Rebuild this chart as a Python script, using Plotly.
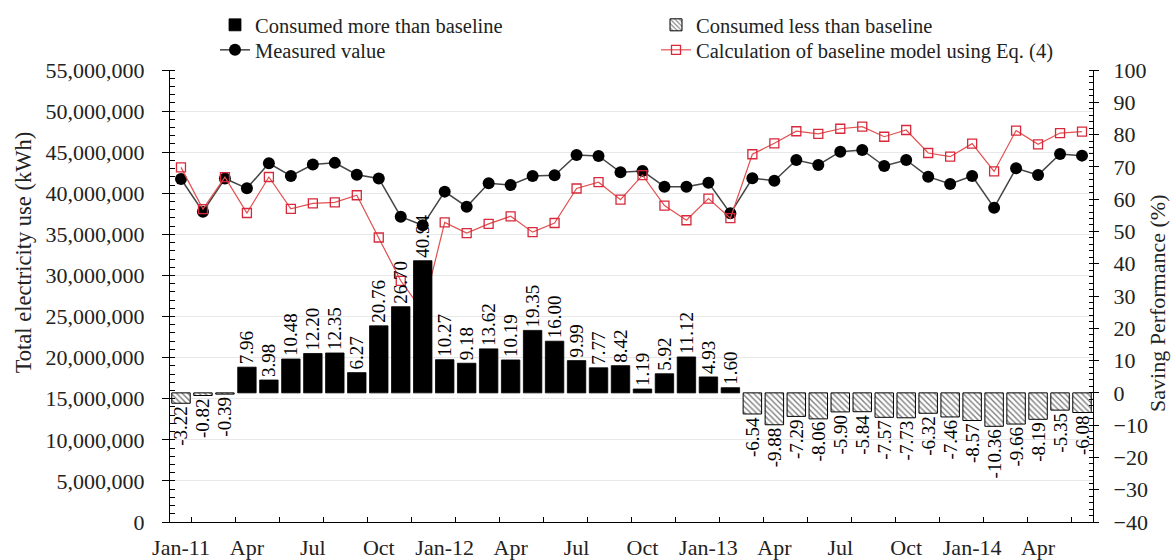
import plotly.graph_objects as go

# Monthly data, Jan 2011 - Jun 2014
months = [
    "Jan-11", "Feb-11", "Mar-11", "Apr-11", "May-11", "Jun-11", "Jul-11", "Aug-11", "Sep-11", "Oct-11", "Nov-11", "Dec-11",
    "Jan-12", "Feb-12", "Mar-12", "Apr-12", "May-12", "Jun-12", "Jul-12", "Aug-12", "Sep-12", "Oct-12", "Nov-12", "Dec-12",
    "Jan-13", "Feb-13", "Mar-13", "Apr-13", "May-13", "Jun-13", "Jul-13", "Aug-13", "Sep-13", "Oct-13", "Nov-13", "Dec-13",
    "Jan-14", "Feb-14", "Mar-14", "Apr-14", "May-14", "Jun-14",
]

# Axis labels shown every third month
tick_labels = ["Jan-11", "Apr", "Jul", "Oct", "Jan-12", "Apr", "Jul", "Oct",
               "Jan-13", "Apr", "Jul", "Oct", "Jan-14", "Apr"]

# Measured electricity use (million kWh)
measured_mkwh = [
    41.74, 37.75, 41.80, 40.60, 43.65, 42.10, 43.50, 43.70, 42.25, 41.80, 37.15, 36.10,
    40.20, 38.37, 41.21, 41.00, 42.10, 42.20, 44.66, 44.54, 42.55, 42.71, 40.80, 40.80,
    41.29, 37.56, 41.82, 41.53, 44.05, 43.44, 45.06, 45.27, 43.32, 44.05, 42.02, 41.13,
    42.10, 38.25, 43.04, 42.22, 44.78, 44.58,
]

# Baseline model, Eq. (4) (million kWh)
baseline_mkwh = [
    43.15, 38.08, 41.96, 37.60, 41.98, 38.10, 38.76, 38.90, 39.76, 34.62, 29.35, 25.65,
    36.45, 35.16, 36.27, 37.20, 35.27, 36.38, 40.58, 41.35, 39.23, 42.21, 38.50, 36.72,
    39.35, 36.97, 44.75, 46.08, 47.55, 47.23, 47.85, 48.10, 46.88, 47.70, 44.90, 44.45,
    46.04, 42.66, 47.63, 45.95, 47.33, 47.50,
]

# Saving performance (%)
saving_pct = [
    -3.22, -0.82, -0.39, 7.96, 3.98, 10.48, 12.20, 12.35, 6.27, 20.76, 26.70, 40.94,
    10.27, 9.18, 13.62, 10.19, 19.35, 16.00, 9.99, 7.77, 8.42, 1.19, 5.92, 11.12,
    4.93, 1.60, -6.54, -9.88, -7.29, -8.06, -5.90, -5.84, -7.57, -7.73, -6.32, -7.46,
    -8.57, -10.36, -9.66, -8.19, -5.35, -6.08,
]

FONT = "Liberation Serif, Times New Roman, serif"
x = list(range(len(months)))
more = [v if v > 0 else None for v in saving_pct]
less = [v if v < 0 else None for v in saving_pct]

fig = go.Figure()

fig.add_trace(go.Bar(
    x=x, y=more, yaxis="y2", name="Consumed more than baseline", legend="legend",
    width=0.84, marker=dict(color="black", line=dict(color="black", width=0.8)),
    text=[f"{v:.2f}" if v is not None else "" for v in more],
    textposition="outside", textangle=-90, constraintext="none", cliponaxis=False,
    textfont=dict(family=FONT, size=19, color="black"),
    customdata=months, hovertemplate="%{customdata}: %{y:.2f}%<extra></extra>",
))
fig.add_trace(go.Bar(
    x=x, y=less, yaxis="y2", name="Consumed less than baseline", legend="legend2",
    width=0.84,
    marker=dict(color="white", line=dict(color="black", width=1),
                pattern=dict(shape="\\", fgcolor="black", bgcolor="white", size=4, solidity=0.35)),
    text=[f"{v:.2f}" if v is not None else "" for v in less],
    textposition="outside", textangle=-90, constraintext="none", cliponaxis=False,
    textfont=dict(family=FONT, size=19, color="black"),
    customdata=months, hovertemplate="%{customdata}: %{y:.2f}%<extra></extra>",
))
fig.add_trace(go.Scatter(
    x=x, y=[v * 1e6 for v in measured_mkwh], name="Measured value", legend="legend3",
    mode="lines+markers", line=dict(color="#444444", width=1.5),
    marker=dict(symbol="circle", size=12, color="black"),
    customdata=months, hovertemplate="%{customdata}: %{y:,.0f} kWh<extra></extra>",
))
fig.add_trace(go.Scatter(
    x=x, y=[v * 1e6 for v in baseline_mkwh], name="Calculation of baseline model using Eq. (4)",
    legend="legend4",
    mode="lines+markers", line=dict(color="#e25050", width=1.2),
    marker=dict(symbol="square-open", size=9, color="#d8283a", line=dict(width=1.3)),
    customdata=months, hovertemplate="%{customdata}: %{y:,.0f} kWh<extra></extra>",
))

tickfont = dict(family=FONT, size=22, color="#222")
legend_common = dict(
    orientation="v", xanchor="left", yanchor="top",
    xref="container", yref="container",
    font=dict(family=FONT, size=20.5, color="#222"),
    bgcolor="rgba(0,0,0,0)",
)
col1, col2 = 215 / 1171, 656 / 1171
row1, row2 = 1 - 5 / 560, 1 - 30 / 560

fig.update_layout(
    width=1171, height=560,
    margin=dict(l=170, r=78, t=70, b=38, autoexpand=False),
    paper_bgcolor="white", plot_bgcolor="white",
    font=dict(family=FONT, color="#222"),
    barmode="overlay",
    showlegend=True,
    legend=dict(legend_common, x=col1, y=row1),
    legend2=dict(legend_common, x=col2, y=row1),
    legend3=dict(legend_common, x=col1, y=row2),
    legend4=dict(legend_common, x=col2, y=row2),
    xaxis=dict(
        range=[-0.5, len(months) - 0.5],
        tickmode="array", tickvals=list(range(0, len(months), 3)), ticktext=tick_labels,
        ticks="", showgrid=False, zeroline=False,
        showline=True, linecolor="black", linewidth=1.2,
        tickfont=tickfont, ticklabelstandoff=5,
        minor=dict(tickmode="array", tickvals=[i + 0.5 for i in range(0, len(months) - 1, 2)],
                   ticks="inside", ticklen=5, tickcolor="black", tickwidth=1, showgrid=False),
    ),
    yaxis=dict(
        range=[0, 55e6], dtick=5e6, tickformat=",d",
        ticks="outside", ticklen=7, tickcolor="black", tickwidth=1,
        showline=True, linecolor="black", linewidth=1.2,
        showgrid=True, gridcolor="#e8e8e8", gridwidth=1, zeroline=False,
        tickfont=tickfont, ticklabelstandoff=13,
        minor=dict(dtick=1e6, ticks="inside", ticklen=5, tickcolor="black", tickwidth=1, showgrid=False),
    ),
    yaxis2=dict(
        range=[-40, 100], dtick=10, overlaying="y", side="right",
        ticks="outside", ticklen=5, tickcolor="black", tickwidth=1,
        showline=True, linecolor="black", linewidth=1.2,
        showgrid=False, zeroline=False,
        tickfont=tickfont, ticklabelstandoff=10,
        minor=dict(dtick=2, ticks="inside", ticklen=4, tickcolor="black", tickwidth=1, showgrid=False),
    ),
    # inner halves of the crossing major tick marks
    yaxis3=dict(
        range=[0, 55e6], dtick=5e6, overlaying="y", side="left",
        ticks="inside", ticklen=6, tickcolor="black", tickwidth=1,
        showticklabels=False, showgrid=False, zeroline=False, showline=False,
    ),
    yaxis4=dict(
        range=[-40, 100], dtick=10, overlaying="y", side="right",
        ticks="inside", ticklen=5, tickcolor="black", tickwidth=1,
        showticklabels=False, showgrid=False, zeroline=False, showline=False,
    ),
    annotations=[
        dict(text="Total electricity use (kWh)", textangle=-90, showarrow=False,
             xref="paper", yref="paper", x=-0.159, y=0.595, xanchor="center", yanchor="middle",
             font=dict(family=FONT, size=22.5, color="#222")),
        dict(text="Saving Performance (%)", textangle=-90, showarrow=False,
             xref="paper", yref="paper", x=1.0693, y=0.4845, xanchor="center", yanchor="middle",
             font=dict(family=FONT, size=22, color="#222")),
    ],
)

fig.write_html("out.html")
